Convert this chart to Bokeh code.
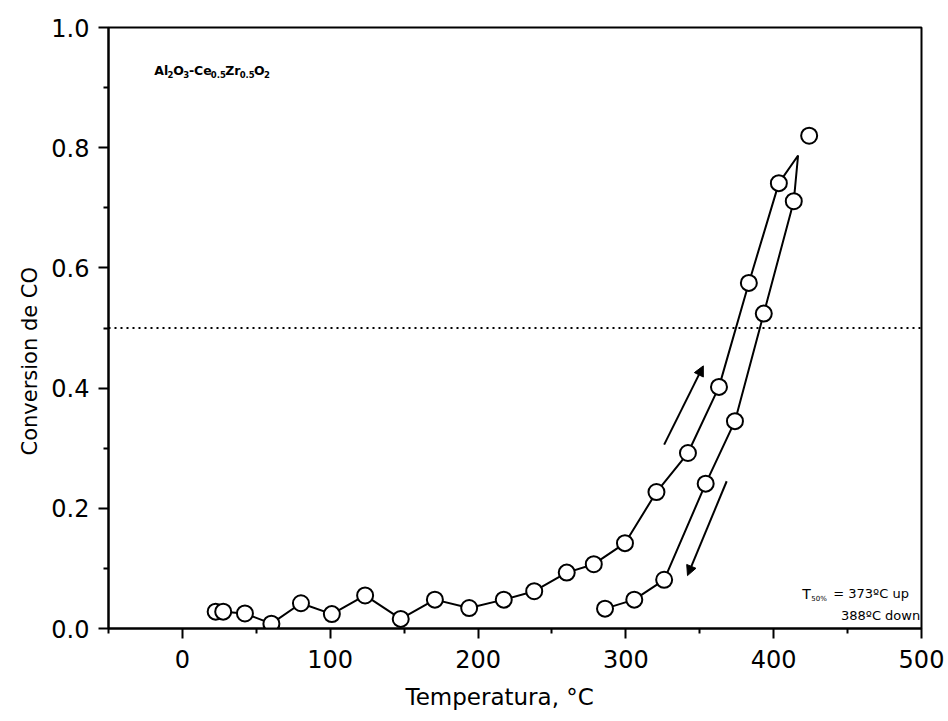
from bokeh.plotting import figure
from bokeh.models import Range1d, FixedTicker, Span, Arrow, NormalHead, Label, NumeralTickFormatter, Title
from bokeh.embed import file_html
from bokeh.resources import INLINE

# ---- data ----
up_temp = [22.5, 27.6, 42.3, 60.2, 80.2, 101.1, 123.6, 147.7, 170.8, 194.0,
           217.4, 238.0, 260.0, 278.3, 299.4, 320.7, 342.0, 363.0, 383.2, 403.5]
up_conv = [0.028, 0.028, 0.025, 0.008, 0.042, 0.024, 0.055, 0.016, 0.048, 0.034,
           0.048, 0.062, 0.093, 0.107, 0.142, 0.227, 0.292, 0.402, 0.575, 0.741]
turn_temp = [416.5]
turn_conv = [0.787]
down_temp = [413.6, 393.3, 373.8, 354.0, 325.9, 305.7, 285.9]
down_conv = [0.711, 0.524, 0.345, 0.241, 0.081, 0.048, 0.033]
max_temp = [424.0]
max_conv = [0.82]
t50_level = 0.5
up_arrow = [325.9, 0.306, 352.4, 0.437]
down_arrow = [368.2, 0.245, 341.7, 0.088]
x_ticks = [0, 100, 200, 300, 400, 500]
x_minor = [-50, 50, 150, 250, 350, 450]
y_ticks = [0.0, 0.2, 0.4, 0.6, 0.8, 1.0]
y_minor = [0.1, 0.3, 0.5, 0.7, 0.9]
sample_parts = ["Al", "2", "O", "3", "-Ce", "0.5", "Zr", "0.5", "O", "2"]
sample_is_sub = [False, True, False, True, False, True, False, True, False, True]
t50_up = "= 373ºC up"
t50_down = "388ºC down"
x_title = "Temperatura, °C"
y_title = "Conversion de CO"

p = figure(width=948, height=721, output_backend="svg", toolbar_location=None,
           x_range=Range1d(-50, 500), y_range=Range1d(0, 1.0),
           min_border_left=108, min_border_right=27, min_border_top=27, min_border_bottom=93)
p.grid.visible = False
p.background_fill_color = "white"
p.border_fill_color = "white"
p.outline_line_color = "black"
p.outline_line_width = 2
p.outline_line_alpha = 1

for ax in (p.xaxis[0], p.yaxis[0]):
    ax.axis_line_width = 2
    ax.axis_line_color = "black"
    ax.major_tick_line_width = 2
    ax.minor_tick_line_width = 2
    ax.major_tick_in = 0
    ax.major_tick_out = 10
    ax.minor_tick_in = 0
    ax.minor_tick_out = 5
    ax.major_label_text_font = "DejaVu Sans"
    ax.major_label_text_font_size = "24px"
    ax.major_label_text_color = "black"
    ax.major_label_standoff = 9

p.xaxis.major_label_standoff = 11
p.xaxis.ticker = FixedTicker(ticks=x_ticks, minor_ticks=x_minor)
p.yaxis.ticker = FixedTicker(ticks=y_ticks, minor_ticks=y_minor)
p.yaxis.formatter = NumeralTickFormatter(format="0.0")

xt = Title(text=x_title, align="left", offset=297, text_font="DejaVu Sans",
           text_font_size="23px", text_font_style="normal", text_color="black", standoff=22)
p.add_layout(xt, "below")
yt = Title(text=y_title, align="left", offset=173, text_font="DejaVu Sans",
           text_font_size="21px", text_font_style="normal", text_color="black", standoff=14)
p.add_layout(yt, "left")

# T50 reference line
p.add_layout(Span(location=t50_level, dimension="width", line_color="black",
                  line_width=2, line_dash="2 4"))

# hysteresis loop line
loop_x = up_temp + turn_temp + down_temp
loop_y = up_conv + turn_conv + down_conv
p.line(loop_x, loop_y, line_color="black", line_width=2)

# markers
mk = dict(size=16, fill_color="white", line_color="black", line_width=2)
p.scatter(up_temp, up_conv, **mk)
p.scatter(down_temp, down_conv, **mk)
p.scatter(max_temp, max_conv, **mk)

# direction arrows
for a in (up_arrow, down_arrow):
    p.add_layout(Arrow(end=NormalHead(size=10, fill_color="black", line_color="black", line_width=1),
                       x_start=a[0], y_start=a[1], x_end=a[2], y_end=a[3],
                       line_color="black", line_width=2))

# sample label with real subscripts (DejaVu Sans Bold advance widths, em)
adv = {"A": .774, "l": .343, "O": .850, "C": .734, "e": .678, "Z": .725, "r": .493,
       "-": .436, ".": .380, "0": .696, "2": .696, "3": .696, "5": .696}
xo = 0.0
for part, sub in zip(sample_parts, sample_is_sub):
    fs = 8.5 if sub else 12.5
    p.add_layout(Label(x=-19, y=0.928, x_offset=xo, y_offset=-4 if sub else 0, text=part,
                       text_font="DejaVu Sans", text_font_style="bold", text_font_size=f"{fs}px",
                       text_color="black", text_baseline="alphabetic"))
    xo += sum(adv.get(c, .7) for c in part) * fs * 0.95

# T50 annotation
p.add_layout(Label(x=419.4, y=0.058, text="T", text_font="DejaVu Sans",
                   text_font_size="14px", text_color="black", text_baseline="alphabetic"))
p.add_layout(Label(x=419.4, y=0.058, x_offset=9, y_offset=-5, text="50%", text_font="DejaVu Sans",
                   text_font_size="7px", text_color="black", text_baseline="alphabetic"))
p.add_layout(Label(x=440.3, y=0.058, text=t50_up, text_font="DejaVu Sans",
                   text_font_size="13px", text_color="black", text_baseline="alphabetic"))
p.add_layout(Label(x=445.5, y=0.0216, text=t50_down, text_font="DejaVu Sans",
                   text_font_size="13px", text_color="black", text_baseline="alphabetic"))

open("out.html", "w").write(file_html(p, INLINE))
